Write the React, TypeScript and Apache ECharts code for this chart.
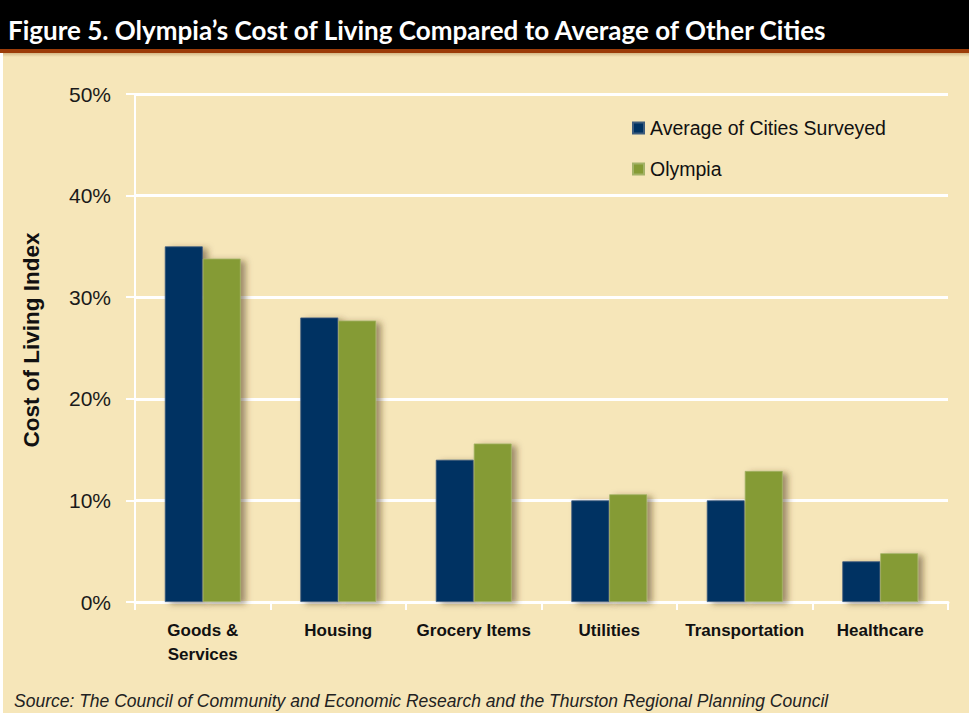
import React, { useEffect, useRef } from "react";
import * as echarts from "echarts";

const categories = ["Goods &\nServices", "Housing", "Grocery Items", "Utilities", "Transportation", "Healthcare"];
const averageCities = [35.0, 28.0, 14.0, 10.0, 10.0, 4.0];
const olympia = [33.8, 27.7, 15.6, 10.6, 12.9, 4.8];
const seriesNames = ["Average of Cities Surveyed", "Olympia"];
const yAxisTitle = "Cost of Living Index";
const titleText = "Figure 5. Olympia\u2019s Cost of Living Compared to Average of Other Cities";
const sourceText = "Source: The Council of Community and Economic Research and the Thurston Regional Planning Council";

export default function App() {
  const ref = useRef<HTMLDivElement>(null);
  useEffect(() => {
    if (!ref.current) return;
    const chart = echarts.init(ref.current, null, { renderer: "svg" });
    const barShadow = {
      shadowBlur: 6,
      shadowColor: "rgba(70,50,10,0.5)",
      shadowOffsetX: 5,
      shadowOffsetY: 2,
    };
    chart.setOption({
      animation: false,
      backgroundColor: "#F6E6B9",
      grid: { left: 135, right: 21, top: 94, bottom: 111, containLabel: false },
      legend: {
        orient: "vertical",
        left: 632,
        top: 118,
        padding: 0,
        icon: "rect",
        itemWidth: 11,
        itemHeight: 11,
        itemGap: 21,
        textStyle: { fontFamily: "Liberation Sans, Arial, sans-serif", fontSize: 19.5, color: "#111", padding: [0, 0, 0, 1] },
        data: seriesNames,
      },
      xAxis: {
        type: "category",
        data: categories,
        axisLine: { show: true, lineStyle: { color: "#ffffff", width: 3 } },
        axisTick: { show: true, length: 8, interval: 0, lineStyle: { color: "#ffffff", width: 2 } },
        axisLabel: {
          interval: 0,
          margin: 16,
          fontFamily: "Liberation Sans, Arial, sans-serif",
          fontWeight: "bold",
          fontSize: 17,
          lineHeight: 24,
          color: "#111",
        },
      },
      yAxis: {
        type: "value",
        min: 0,
        max: 50,
        interval: 10,
        axisLine: { show: true, lineStyle: { color: "#ffffff", width: 2 } },
        axisTick: { show: true, length: 9, lineStyle: { color: "#ffffff", width: 2 } },
        splitLine: { show: true, lineStyle: { color: "#ffffff", width: 3 } },
        axisLabel: {
          formatter: "{value}%",
          margin: 24,
          fontFamily: "Liberation Sans, Arial, sans-serif",
          fontSize: 21,
          color: "#1a1a1a",
        },
      },
      series: [
        {
          name: seriesNames[0],
          type: "bar",
          data: averageCities,
          barGap: "0%",
          barCategoryGap: "44%",
          itemStyle: { color: "#003262", borderColor: "#3d5c7d", borderWidth: 0.8, ...barShadow },
        },
        {
          name: seriesNames[1],
          type: "bar",
          data: olympia,
          barGap: "0%",
          barCategoryGap: "44%",
          itemStyle: { color: "#859B34", borderColor: "#a3b267", borderWidth: 0.8, ...barShadow },
        },
      ],
      graphic: [
        { type: "rect", left: 0, top: 0, shape: { width: 969, height: 49 }, style: { fill: "#000000" }, z: 10 },
        { type: "rect", left: 0, top: 49, shape: { width: 969, height: 4 }, style: { fill: "#9C3C08" }, z: 10 },
        {
          type: "rect",
          left: 0,
          top: 53,
          shape: { width: 969, height: 4 },
          style: {
            fill: new echarts.graphic.LinearGradient(0, 0, 0, 1, [
              { offset: 0, color: "rgba(150,100,40,0.35)" },
              { offset: 1, color: "rgba(150,100,40,0)" },
            ]),
          },
          z: 10,
        },
        { type: "rect", left: 0, top: 53, shape: { width: 3, height: 660 }, style: { fill: "#ffffff" }, z: 10 },
        {
          type: "text",
          x: 8,
          y: 30,
          style: {
            text: titleText,
            fill: "#ffffff",
            font: "bold 26px Lato, 'Open Sans', sans-serif",
            textVerticalAlign: "middle",
            verticalAlign: "middle",
          },
          z: 11,
        },
        {
          type: "text",
          x: 31,
          y: 340,
          rotation: Math.PI / 2,
          style: {
            text: yAxisTitle,
            fill: "#111111",
            font: "bold 22.5px 'Liberation Sans', Arial, sans-serif",
            align: "center",
            verticalAlign: "middle",
            textAlign: "center",
            textVerticalAlign: "middle",
          },
          z: 11,
        },
        {
          type: "text",
          x: 14,
          y: 701,
          style: {
            text: sourceText,
            fill: "#222222",
            font: "italic 17.5px 'Liberation Sans', Arial, sans-serif",
            textVerticalAlign: "middle",
            verticalAlign: "middle",
          },
          z: 11,
        },
      ],
    });
    return () => chart.dispose();
  }, []);
  return <div ref={ref} style={{ position: "fixed", left: 0, top: 0, width: 969, height: 713 }} />;
}
